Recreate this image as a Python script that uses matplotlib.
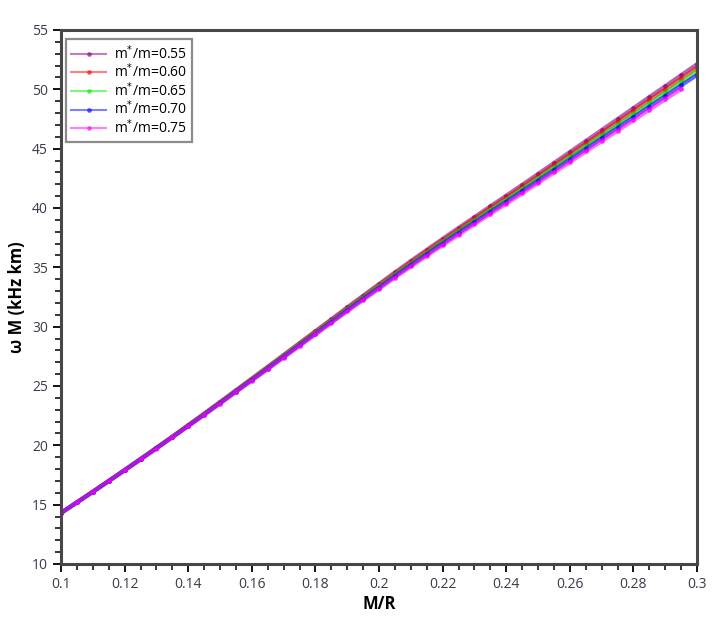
import matplotlib
matplotlib.use("Agg")
import matplotlib.pyplot as plt
import matplotlib.ticker as mticker

plt.rcParams['font.family'] = ['Open Sans', 'DejaVu Sans']

# compactness M/R
compactness = [0.100, 0.105, 0.110, 0.115, 0.120, 0.125, 0.130, 0.135, 0.140, 0.145,
               0.150, 0.155, 0.160, 0.165, 0.170, 0.175, 0.180, 0.185, 0.190, 0.195,
               0.200, 0.205, 0.210, 0.215, 0.220, 0.225, 0.230, 0.235, 0.240, 0.245,
               0.250, 0.255, 0.260, 0.265, 0.270, 0.275, 0.280, 0.285, 0.290, 0.295,
               0.300]

# omega * M (kHz km) for each effective mass ratio
wm_055 = [14.30, 15.19, 16.09, 17.00, 17.92, 18.85, 19.79, 20.74, 21.70, 22.67,
          23.65, 24.64, 25.63, 26.62, 27.62, 28.62, 29.62, 30.62, 31.62, 32.61,
          33.59, 34.57, 35.53, 36.47, 37.40, 38.32, 39.23, 40.14, 41.04, 41.95,
          42.87, 43.79, 44.71, 45.64, 46.56, 47.49, 48.41, 49.34, 50.26, 51.19,
          52.11]
wm_060 = [14.30, 15.19, 16.09, 17.00, 17.91, 18.84, 19.78, 20.72, 21.68, 22.64,
          23.62, 24.60, 25.59, 26.57, 27.56, 28.56, 29.55, 30.54, 31.54, 32.52,
          33.49, 34.46, 35.41, 36.35, 37.27, 38.18, 39.08, 39.98, 40.87, 41.77,
          42.68, 43.59, 44.50, 45.42, 46.33, 47.25, 48.16, 49.08, 49.98, 50.90,
          51.81]
wm_065 = [14.30, 15.19, 16.08, 16.99, 17.91, 18.83, 19.76, 20.70, 21.65, 22.62,
          23.58, 24.56, 25.54, 26.52, 27.51, 28.50, 29.48, 30.47, 31.45, 32.43,
          33.39, 34.36, 35.30, 36.22, 37.14, 38.04, 38.93, 39.82, 40.70, 41.59,
          42.49, 43.39, 44.29, 45.20, 46.10, 47.01, 47.90, 48.81, 49.71, 50.61,
          51.51]
wm_070 = [14.30, 15.19, 16.08, 16.99, 17.90, 18.82, 19.75, 20.68, 21.63, 22.59,
          23.55, 24.53, 25.50, 26.47, 27.45, 28.43, 29.41, 30.39, 31.37, 32.34,
          33.29, 34.25, 35.18, 36.10, 37.00, 37.90, 38.78, 39.66, 40.53, 41.41,
          42.30, 43.19, 44.08, 44.98, 45.87, 46.76, 47.65, 48.55, 49.43, 50.33,
          51.21]
wm_075 = [14.30, 15.19, 16.08, 16.98, 17.89, 18.81, 19.73, 20.67, 21.61, 22.56,
          23.52, 24.49, 25.46, 26.42, 27.40, 28.37, 29.34, 30.32, 31.29, 32.25,
          33.19, 34.14, 35.07, 35.98, 36.87, 37.75, 38.63, 39.50, 40.36, 41.23,
          42.11, 42.99, 43.87, 44.76, 45.64, 46.52, 47.40, 48.28, 49.16, 50.04]

labels = ["m$^{*}$/m=0.55", "m$^{*}$/m=0.60", "m$^{*}$/m=0.65",
          "m$^{*}$/m=0.70", "m$^{*}$/m=0.75"]
colors = ["#800080", "#ff0000", "#00ee00", "#0000ff", "#ff00ff"]
series = [wm_055, wm_060, wm_065, wm_070, wm_075]

fig = plt.figure(figsize=(7.12, 6.18), dpi=100)
ax = fig.add_axes([0.0857, 0.0874, 0.8933, 0.8641])

for vals, color, label in zip(series, colors, labels):
    ax.plot(compactness[:len(vals)], vals, color=color, alpha=0.6,
            linewidth=3, marker='o', markersize=2.5,
            markerfacecolor=color, markeredgecolor=color,
            label=label)

ax.set_xlim(0.1, 0.3)
ax.set_ylim(10, 55)
ax.xaxis.set_major_locator(mticker.MultipleLocator(0.02))
ax.xaxis.set_minor_locator(mticker.MultipleLocator(0.005))
ax.xaxis.set_major_formatter(mticker.FormatStrFormatter('%g'))
ax.yaxis.set_major_locator(mticker.MultipleLocator(5))
ax.yaxis.set_minor_locator(mticker.MultipleLocator(1))

spine_color = '#474747'
for sp in ax.spines.values():
    sp.set_color(spine_color)
    sp.set_linewidth(2.2)
ax.tick_params(which='major', direction='out', length=6, width=1.3,
               color='black', labelsize=10, labelcolor='#3a3a4a')
ax.tick_params(which='minor', direction='out', length=4, width=1.1,
               color='black')

ax.set_xlabel('M/R', fontsize=12, fontweight='bold', labelpad=2)
ax.set_ylabel('ω M (kHz km)', fontsize=12, fontweight='bold', labelpad=4)

legend = ax.legend(loc='upper left', bbox_to_anchor=(0.004, 0.988),
                   fontsize=10, frameon=True, fancybox=False,
                   borderpad=0.35, labelspacing=0.0, handlelength=2.5,
                   handletextpad=0.6, borderaxespad=0.2)
legend.get_frame().set_edgecolor('#6e6e6e')
legend.get_frame().set_linewidth(1.6)
for line in legend.get_lines():
    line.set_linewidth(1.5)
    line.set_alpha(0.5)
    line.set_markersize(2.5)

fig.savefig('out.png', dpi=100)
